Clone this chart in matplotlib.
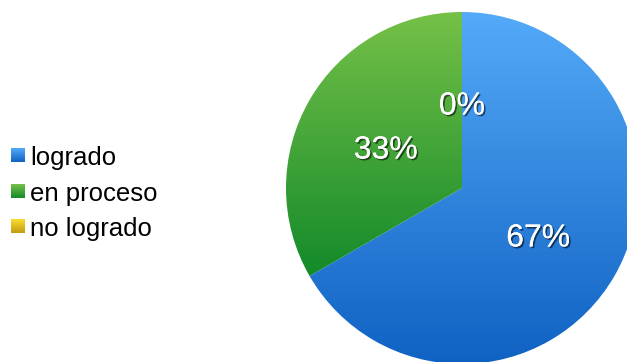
import numpy as np
import matplotlib
matplotlib.use("Agg")
import matplotlib.pyplot as plt
import matplotlib.patheffects as pe
from matplotlib.colors import LinearSegmentedColormap

categories = ["logrado", "en proceso", "no logrado"]
values = [2, 1, 0]
pct_labels = ["67%", "33%", "0%"]
top_colors = ["#54aaf9", "#76c148", "#f9dd32"]
bottom_colors = ["#0f62c2", "#138a2a", "#c49c10"]

W, H = 627, 362
fig = plt.figure(figsize=(W / 100, H / 100), dpi=100)
fig.patch.set_facecolor("white")
font = "Liberation Sans"

# pie axes: center (462,188) px, radius 176 px
cx, cy, r = 462, 188, 176
ax = fig.add_axes([(cx - r) / W, (H - cy - r) / H, 2 * r / W, 2 * r / H])
wedges, texts = ax.pie(values, startangle=90, counterclock=False,
                       labels=pct_labels, labeldistance=0.5,
                       colors=["none"] * 3, wedgeprops=dict(linewidth=0))
ax.set_xlim(-1, 1)
ax.set_ylim(-1, 1)
ax.set_aspect("equal")
ax.axis("off")

grad = np.linspace(0, 1, 256).reshape(-1, 1)
for w, c0, c1 in zip(wedges, top_colors, bottom_colors):
    ext = w.get_path().get_extents()
    y0, y1 = ext.y0, ext.y1
    if y1 - y0 < 1e-6:
        continue
    cmap = LinearSegmentedColormap.from_list("g", [c1, c0])
    im = ax.imshow(grad, cmap=cmap, extent=(-1, 1, y0, y1), origin="lower",
                   aspect="auto", zorder=1, interpolation="bilinear")
    im.set_clip_path(w)

for t in texts:
    x, y = t.get_position()
    t.set_position((x, y - 3 / r))
    t.set_color("white")
    t.set_fontsize(23)
    t.set_fontfamily(font)
    t.set_horizontalalignment("center")
    t.set_verticalalignment("center_baseline")
    t.set_zorder(5)
    t.set_path_effects([pe.withSimplePatchShadow(offset=(1.2, -1.2), shadow_rgbFace="black", alpha=0.55),
                        pe.Normal()])
ax.set_xlim(-1, 1)
ax.set_ylim(-1, 1)

# legend
lax = fig.add_axes([0, 0, 1, 1])
lax.axis("off")
row_y = [155.5, 191, 226.5]
for name, c0, c1, y in zip(categories, top_colors, bottom_colors, row_y):
    cmap = LinearSegmentedColormap.from_list("g", [c0, c1])
    lax.imshow(grad, cmap=cmap, extent=(11, 25, y + 7, y - 7), origin="upper",
               aspect="auto", interpolation="bilinear")
    lax.text(30, y, name, fontsize=18.5, family=font, va="center_baseline",
             ha="left", color="black")
lax.set_xlim(0, W)
lax.set_ylim(H, 0)

fig.savefig("out.png", dpi=100)
